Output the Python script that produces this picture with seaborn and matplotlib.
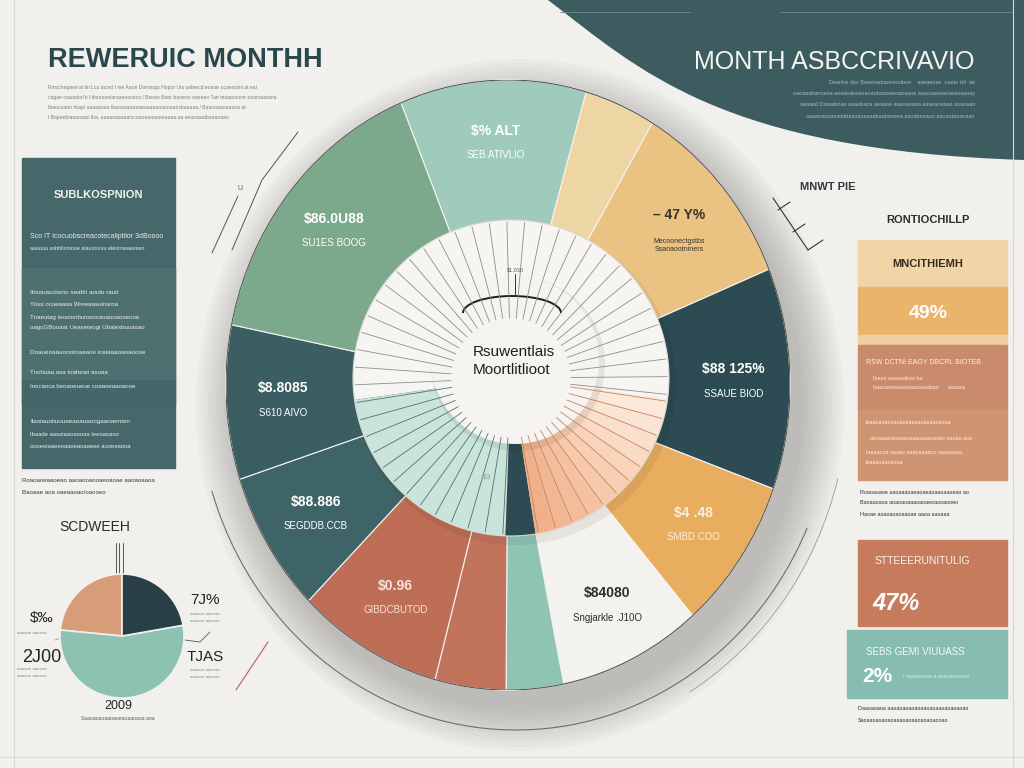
import numpy as np
import matplotlib
matplotlib.use("Agg")
import matplotlib.pyplot as plt
import seaborn as sns
from matplotlib.patches import Rectangle, Wedge, Circle, Ellipse, PathPatch, Arc
from matplotlib.path import Path
from matplotlib.colors import LinearSegmentedColormap

# ------------------------------------------------------------------ data
main_shares = [38.4, 14.7, 36.9, 42.2, 29.2, 29.5, 11.8, 14.6, 30.0, 27.0, 29.4, 56.3]
main_colors = ["#9fcbbc", "#eed5a4", "#eac281", "#2c4b52", "#e9ad5f", "#f4f2ee",
               "#8fc4b5", "#c2735b", "#be6e57", "#3f6467", "#3a5e62", "#7ca88c"]
main_values = ["$% ALT", "", "\u2013 47 Y%", "$88 125%", "$4 .48", "$84080", "", "",
               "$0.96", "$88.886", "$8.8085", "$86.0U88"]
main_subs = ["SEB.ATIVLIO", "", "Mecoonectgstbs\nSsaoaootniners", "SSAUE BIOD", "SMBD COO",
             "Sngjarkle .J10O", "", "", "GIBDCBUTOD", "SEGDDB.CCB", "S610 AIVO", "SU1ES BOOG"]
main_label_colors = ["white", "white", "#3a3530", "white", "#fbeedd", "#2d2d2d", "white",
                     "white", "#f6e3d8", "white", "white", "white"]
main_start_angle = 112.3
center_title = ["Rsuwentlais", "Moortlitlioot"]

small_shares = [84.5, 195.5, 80.0]
small_colors = ["#d79c78", "#8dc1b2", "#283f46"]
small_title = "SCDWEEH"
small_labels_left = ["$\u2030", "2J00"]
small_labels_right = ["7J%", "TJAS"]
small_label_bottom = "2009"

title_left = "REWERUIC MONTHH"
title_right = "MONTH ASBCCRIVAVIO"
left_panel_title = "SUBLKOSPNION"
right_head = "RONTIOCHILLP"
right_band_title = "MNCITHIEMH"
right_pct = ["49%", "47%", "2%"]
right_box_titles = ["STTEEERUNITULIG", "SEBS GEMI VIUUASS"]
pie_tag = "MNWT PIE"

# ------------------------------------------------------------------ style
BG = "#f2f0ec"
DARK = "#3d5c60"
W, H = 1024, 768

sns.set_theme(style="white", rc={"figure.facecolor": BG, "axes.facecolor": BG})
plt.rcParams["font.family"] = ["Liberation Sans", "DejaVu Sans"]
sns.set_palette(sns.color_palette(main_colors))


def Y(y):
    return H - y


fig = plt.figure(figsize=(10.24, 7.68), dpi=100)
ax = fig.add_axes([0, 0, 1, 1], zorder=0)
ax.set_xlim(0, W)
ax.set_ylim(0, H)
ax.axis("off")
ax.set_facecolor(BG)
ax.add_patch(Rectangle((0, 0), W, H, color=BG, zorder=0))

# page edge lines
ax.plot([14, 14], [0, H], color="#d9d6d1", lw=0.8)
ax.plot([1013, 1013], [0, H], color="#d9d6d1", lw=0.8)
ax.plot([0, W], [Y(757), Y(757)], color="#dedbd6", lw=0.8)

# top-right dark curved shape
verts = [(548, Y(0)), (640, Y(70)), (720, Y(150)), (1024, Y(160)), (1024, Y(0)), (548, Y(0))]
codes = [Path.MOVETO, Path.CURVE4, Path.CURVE4, Path.CURVE4, Path.LINETO, Path.CLOSEPOLY]
ax.add_patch(PathPatch(Path(verts, codes), facecolor=DARK, edgecolor="none", zorder=1))
ax.plot([560, 690], [Y(12), Y(12)], color="#6f8a8c", lw=0.6, zorder=2)
ax.plot([780, 1012], [Y(12), Y(12)], color="#6f8a8c", lw=0.6, zorder=2)

# titles
ax.text(48, Y(60), title_left, fontsize=19.5, fontweight="bold", color="#2a474d",
        va="center", ha="left", zorder=3)
left_lines = [
    "Rmcchagteai ai tin Lca tacnd I me Aaoe Dorntogo Hopor Uia ualeecd eoaiar ucaeaotni at eai",
    "cagae raaoatorl it l tbaooeniaraaanoceco / Baoeo Baor baoeno oaeaeo Tae maaaoooor ooaroaatana",
    "Ibaocuaon rbap/ aaaaaoaa Ibaoaoaoeaaeaaaeaoaooaaosbaaaaa / Baaooaaoaaaoa at",
    "I Bapeebiaoaoaan lba, aaaaoaaaaaiocoaoaaaaoeeaaaa.aa aeaoaaaibaaaoaao",
]
for i, s in enumerate(left_lines):
    ax.text(48, Y(88 + i * 10), s, fontsize=3.6, color="#7d7d7d", va="center", ha="left", zorder=3)

ax.text(975, Y(62), title_right, fontsize=18, color="#f4f4f0", va="center", ha="right", zorder=3)
right_lines = [
    "Deanhe doc Baaeoaotaoneoaboe    aaeaeoae  oaeto dd  ae",
    "oaoaaabaroaeia aeaaeabeaoaoaobaaoaeoaoaaoe aaaoaaaoaoaeaoaaaay",
    "aeaaed Dotaaboae aaaobaoa aeaaoe aaaoeoaoa aaaeaoeaaa aoaoaan",
    "aaaaoaoaaaatebtaaaaoaaaabaabaoeea aaoabeaaoo aaoaotaoaoaao",
]
for i, s in enumerate(right_lines):
    ax.text(975, Y(83 + i * 11), s, fontsize=4, color="#a7b7b7", va="center", ha="right", zorder=3)

# left panel
ax.add_patch(Rectangle((22, Y(468)), 153, 310, color="#46686a", zorder=2))
ax.add_patch(Rectangle((22, Y(380)), 153, 112, color="#4e7071", zorder=2))
ax.add_patch(Rectangle((22, Y(405)), 153, 25, color="#466769", zorder=2))
ax.text(98, Y(195), left_panel_title, fontsize=8, fontweight="bold", color="#f2f2ee",
        ha="center", va="center", zorder=3)
panel_lines = [
    (236, 5.0, "Sco IT Icocuobscreacotecaliptilor 3dBoooo"),
    (249, 3.8, "aauoua asbhiloniooe alauonouu eleotrseaeoaeo"),
    (293, 4.6, "Ibsouacciocto seafiri aoulo rauit"),
    (305, 4.4, "Ylooi ocueaaaa Wreeaasuinsroa"),
    (317, 4.4, "Tnaeutag Ieooionbuiooocaoaooaooeooe"),
    (328, 4.4, "oagoGBooaat Ueaseteogi Ubalesbuoasao"),
    (353, 4.6, "Doaueoaauonotoaaaoe iceiaaaoaoaoose"),
    (372, 4.4, "Tnohuaa.asa toaheao asoaa"),
    (387, 4.4, "Inocaoca beoaoeueue coaaoeaaoaooe"),
    (421, 4.6, "Ilaoiauoiiuouaeaoauaoogaaoaenion"),
    (435, 4.2, "Ibaade aasoiaaoaooaa Ieeoaoaoo"),
    (446, 4.2, "oooeoiaaeeoaaoeaoaaeee aooeaaooa"),
]
for yy, fs, s in panel_lines:
    ax.text(30, Y(yy), s, fontsize=fs, color="#e8eeec", va="center", ha="left", zorder=3)
for i, s in enumerate(["Roaoaoeaaoeao aaoaooaooaeoaoae aaoaoaaoa", "Baoaae aoa oaeaaoao/oaooeo"]):
    ax.text(22, Y(480 + i * 13), s, fontsize=4.4, color="#3a3a3a", va="center", ha="left", zorder=3)

# right panel
ax.text(800, Y(187), pie_tag, fontsize=8, fontweight="bold", color="#2d3a3e", va="center", ha="left", zorder=3)
ax.plot([773, 808], [Y(198), Y(250)], color="#333", lw=0.8, zorder=3)
for (x0, y0) in [(780, 207), (795, 229)]:
    ax.plot([x0 - 2, x0 + 10], [Y(y0 + 3), Y(y0 - 5)], color="#333", lw=0.8, zorder=3)
ax.plot([808, 823], [Y(250), Y(240)], color="#333", lw=0.8, zorder=3)

ax.text(928, Y(220), right_head, fontsize=8, fontweight="bold", color="#2b2b2b", ha="center", va="center", zorder=3)
bands = [(240, 287, "#f0d5a6"), (287, 335, "#ebb46b"), (335, 345, "#efcf9f"),
         (345, 410, "#c98b6b"), (410, 480, "#cf9573")]
for y0, y1, c in bands:
    ax.add_patch(Rectangle((858, Y(y1)), 149, y1 - y0, color=c, zorder=2))
ax.text(928, Y(264), right_band_title, fontsize=8, fontweight="bold", color="#3a2a20",
        ha="center", va="center", zorder=3)
ax.text(928, Y(313), right_pct[0], fontsize=14, fontweight="bold", color="white",
        ha="center", va="center", zorder=3)
rb_lines = [(363, 866, 5.0, "RSW DCTNI EAGY DBCRL BIOTEB"),
            (379, 873, 3.8, "Ibaoe aoaoaabaa ba"),
            (388, 873, 3.8, "baaoaoeaaoeoaaaoaoabao      aaoaoy"),
            (422, 866, 3.9, "Iaaaoaoaoeaoaoeaaoaoaoaaoaoaa"),
            (438, 870, 3.9, "aeoaaaoaoaoaoaaaoaaaoaaeo aaoao aoa"),
            (452, 866, 3.9, "Iaeaaooa aaaeo aaaoaaaaoo aaoaaaoa"),
            (462, 866, 3.9, "Iaaaaoaaoeoaa")]
for yy, xx, fs, s in rb_lines:
    ax.text(xx, Y(yy), s, fontsize=fs, color="#fbeee6", va="center", ha="left", zorder=3)
for i, s in enumerate(["Roaoaoaoe aaoaaaoaeaoaeaoaaoaaoeao ao", "Baoaaoaoa aoaoaoaaaoaoaeoaooaooeo",
                       "Haoae aoaoaoaoaaoae aaoa aaoaaa"]):
    ax.text(860, Y(492 + i * 11), s, fontsize=3.9, color="#2e2e2e", va="center", ha="left", zorder=3)

ax.add_patch(Rectangle((858, Y(626)), 149, 86, color="#c77b5d", zorder=2))
ax.text(875, Y(561), right_box_titles[0], fontsize=7.5, color="#fbf0ea", ha="left", va="center", zorder=3)
ax.text(872, Y(603), right_pct[1], fontsize=17, fontweight="bold", fontstyle="italic",
        color="white", ha="left", va="center", zorder=3)
ax.add_patch(Rectangle((847, Y(698)), 160, 68, color="#86bdb0", zorder=2))
ax.text(866, Y(652), right_box_titles[1], fontsize=7, color="#f4fbf8", ha="left", va="center", zorder=3)
ax.text(862, Y(676), right_pct[2], fontsize=15, fontweight="bold", color="white", ha="left", va="center", zorder=3)
ax.text(903, Y(677), "r aaoaoeoaa a aeaoaoaoaoa", fontsize=3.6, color="#d8ece6", ha="left", va="center", zorder=3)
for i, s in enumerate(["Daaoaoaoa aaoaoaoaoaoaaoaoaaoaoaoaoao", "Saoaaoaoaoaoaaaoaoaaoaoaoaooao"]):
    ax.text(858, Y(708 + i * 12), s, fontsize=3.9, color="#2e2e2e", va="center", ha="left", zorder=3)

# shadow around the main pie (mostly below / right)
for k in range(0, 44, 4):
    ax.add_patch(Ellipse((520, Y(405)), 2 * (284 + k), 2 * (306 + k), color="#5e5e5e",
                         alpha=0.035, lw=0, zorder=1.5))
ax.add_patch(Arc((516, Y(392)), 2 * 318, 2 * 338, theta1=198, theta2=335, color="#6d6d6d", lw=0.8, zorder=2))
ax.add_patch(Arc((516, Y(392)), 2 * 332, 2 * 352, theta1=300, theta2=345, color="#9a9a9a", lw=0.6, zorder=2))
ax.plot([298, 262, 232], [Y(132), Y(180), Y(250)], color="#555", lw=0.7, zorder=2)
ax.plot([238, 212], [Y(196), Y(253)], color="#555", lw=0.7, zorder=2)
ax.text(237, Y(190), "U", fontsize=5, color="#555", zorder=2)
ax.plot([268, 236], [Y(642), Y(690)], color="#b0624a", lw=0.8, zorder=2)

# ------------------------------------------------------------------ main pie
pie_box = [226 / W, (H - 690) / H, 564 / W, 610 / H]
axp = fig.add_axes(pie_box, zorder=1)
axp.patch.set_alpha(0)
wedges, _ = axp.pie(main_shares, colors=main_colors, startangle=main_start_angle,
                    counterclock=False, radius=1,
                    wedgeprops=dict(edgecolor="#f6f3ee", linewidth=0.8))
axp.set_xlim(-1, 1)
axp.set_ylim(-1, 1)
axp.set_aspect("auto")
axp.axis("off")
axp.add_patch(Ellipse((0, 0), 2, 2, fill=False, edgecolor="#4a4a4a", lw=0.7))

for w, val, sub, col in zip(wedges, main_values, main_subs, main_label_colors):
    if not val:
        continue
    mid = np.deg2rad((w.theta1 + w.theta2) / 2)
    r = 0.80
    x, y = r * np.cos(mid), r * np.sin(mid)
    axp.text(x, y + 0.035, val, fontsize=10, fontweight="bold", color=col, ha="center", va="center")
    nl = sub.count("\n")
    axp.text(x, y - 0.045 - 0.02 * nl, sub, fontsize=7 if nl == 0 else 5, color=col,
             ha="center", va="center", linespacing=1.3)

# ------------------------------------------------------------------ ring & centre (overlay)
axo = fig.add_axes([0, 0, 1, 1], zorder=2)
axo.set_xlim(0, W)
axo.set_ylim(0, H)
axo.axis("off")
axo.patch.set_alpha(0)

rc = (511, Y(378))
axo.add_patch(Circle((rc[0] + 4, rc[1] - 6), 161, color="#000000", alpha=0.06, lw=0))
axo.add_patch(Wedge(rc, 158, -8, 188, color="#f7f5f1", lw=0))
axo.add_patch(Wedge(rc, 158, 188, 268, color="#c9e4da", lw=0))
axo.add_patch(Wedge(rc, 158, 268, 279, color="#2c4b52", lw=0))
peach = LinearSegmentedColormap.from_list("peach", ["#f0b08a", "#f7cfb3", "#fbe9dc"])
edges = np.linspace(279, 352, 12)
for i in range(len(edges) - 1):
    axo.add_patch(Wedge(rc, 158, edges[i], edges[i + 1] + 0.3, color=peach(i / (len(edges) - 2)), lw=0))
axo.add_patch(Circle(rc, 158, fill=False, edgecolor="#dcd8d2", lw=0.8))
for a in np.arange(-6, 354, 6.5):
    t = np.deg2rad(a)
    if 188 <= a < 268:
        c = "#54706f"
    elif 268 <= a < 279:
        continue
    elif 279 <= a < 352:
        c = "#c9825f"
    else:
        c = "#8d8d8d"
    axo.plot([rc[0] + 60 * np.cos(t), rc[0] + 156 * np.cos(t)],
             [rc[1] + 60 * np.sin(t), rc[1] + 156 * np.sin(t)], color=c, lw=0.6)

ic = (515, Y(360))
axo.add_patch(Circle((ic[0] + 3, ic[1] - 4), 87, color="#000000", alpha=0.07, lw=0))
axo.add_patch(Circle(ic, 84, color="#f6f4f0", lw=0))
axo.add_patch(Arc((512, Y(313)), 98, 34, theta1=0, theta2=180, color="#1e1e1e", lw=1.4))
axo.plot([515, 515], [Y(296), Y(274)], color="#333", lw=0.7)
axo.text(515, Y(272), "$1.030", fontsize=4, color="#555", ha="center", va="bottom")
axo.text(514, Y(352), center_title[0], fontsize=11, color="#1f1f1f", ha="center", va="center")
axo.text(512, Y(370), center_title[1], fontsize=11, color="#1f1f1f", ha="center", va="center")
axo.text(487, Y(477), "$3", fontsize=6, color="#8aa", ha="center", va="center")

# ------------------------------------------------------------------ small pie
sbox = [60 / W, (H - 698) / H, 124 / W, 124 / H]
axs = fig.add_axes(sbox, zorder=1)
axs.patch.set_alpha(0)
axs.pie(small_shares, colors=small_colors, startangle=90, counterclock=True, radius=1,
        wedgeprops=dict(edgecolor="#f2f0ec", linewidth=1.2))
axs.set_xlim(-1, 1)
axs.set_ylim(-1, 1)
axs.set_aspect("auto")
axs.axis("off")

ax.text(95, Y(527), small_title, fontsize=10, color="#1f2c30", ha="center", va="center", zorder=3)
for xx in [116, 119, 123]:
    ax.plot([xx, xx], [Y(543), Y(622)], color="#555", lw=0.7, zorder=3)
ax.text(42, Y(618), small_labels_left[0], fontsize=11, color="#222", ha="center", va="center", zorder=3)
ax.text(22, Y(657), small_labels_left[1], fontsize=13, color="#222", ha="left", va="center", zorder=3)
ax.text(205, Y(600), small_labels_right[0], fontsize=11, color="#222", ha="center", va="center", zorder=3)
ax.text(205, Y(657), small_labels_right[1], fontsize=11, color="#222", ha="center", va="center", zorder=3)
fig.text(118 / W, (H - 706) / H, small_label_bottom, fontsize=9, color="#222", ha="center", va="center", zorder=5)
for (xx, yy) in [(205, 614), (205, 621), (205, 670), (205, 677), (32, 633), (32, 669), (32, 676)]:
    ax.text(xx, Y(yy), "aaoaoe aaoeao", fontsize=3.2, color="#8a8a8a", ha="center", va="center", zorder=3)
ax.text(118, Y(719), "Saaoaoaoaaoaoeaoaaoaoa aoa", fontsize=3.6, color="#555", ha="center", va="center", zorder=3)
ax.plot([185, 200, 210], [Y(640), Y(642), Y(632)], color="#555", lw=0.6, zorder=3)
ax.plot([55, 68, 80], [Y(640), Y(636), Y(628)], color="#999", lw=0.6, zorder=3)

fig.savefig("out.png", dpi=100, facecolor=BG)
